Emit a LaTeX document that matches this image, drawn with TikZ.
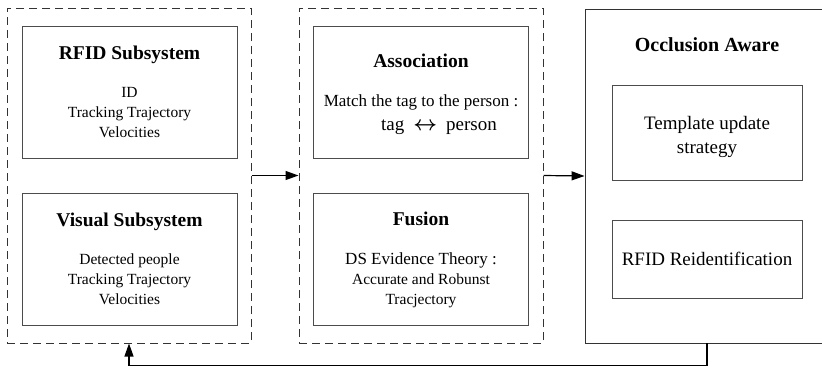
\documentclass[tikz,border=0pt]{standalone}
\usepackage{fontspec}
\setmainfont{Liberation Serif}
\usetikzlibrary{arrows.meta}
\usetikzlibrary{positioning}
\tikzset{
    group/.style={
           rectangle,
           draw=black!80, line width=1pt,
           dash pattern=on 8pt off 5pt,
           minimum width=244pt,
           minimum height=335pt,
           },
    block/.style={
           rectangle,
           draw=black!70, line width=1pt,
           minimum width=215pt,
           minimum height=132pt,
           inner sep=2pt,
           align=center,
           font=\fontsize{15.5}{20}\selectfont,
           },
    flow/.style={
           draw=black, line width=1.2pt,
           -{Triangle[length=13pt,width=9pt]},
           },
}
\newcommand{\blocktitle}[1]{{\fontsize{19.5}{22}\selectfont\bfseries #1}}

\begin{document}
\begin{tikzpicture}[x=1pt,y=-1pt]
 \useasboundingbox (0,0) rectangle (822,367);
 \clip (0,0) rectangle (822,367);

 % left group: the two subsystems
 \node[group] (Sensor Group) at (129,175.5) {};
 \node[block] (RFID) at (129.5,92)
  {\blocktitle{RFID Subsystem}\\[18pt] ID\\ Tracking Trajectory\\ Velocities};
 \node[block] (Visual) at (129.5,259)
  {\blocktitle{Visual Subsystem}\\[18pt] Detected people\\ Tracking Trajectory\\ Velocities};

 % middle group: association and fusion
 \node[group] (Fusion Group) at (421,175.5) {};
 \node[block] (Association) at (421,92)
  {\rule{0pt}{18pt}\blocktitle{Association}\\[19pt]
   {\fontsize{17}{20}\selectfont Match the tag to the person :}\\[4pt]
   {\fontsize{19}{22}\selectfont\hspace*{36pt}tag\hspace{9pt}{\fontsize{22}{22}\selectfont\boldmath$\leftrightarrow$}\hspace{9pt}person}};
 \node[block] (Fusion) at (421,259)
  {\rule{0pt}{16pt}\blocktitle{Fusion}\\[19pt]
   {\fontsize{17}{20}\selectfont DS Evidence Theory :}\\ Accurate and Robunst\\ Tracjectory};

 % right block: occlusion handling
 \node[rectangle, draw=black!80, line width=0.9pt,
  minimum width=244pt, minimum height=334pt] (Occlusion) at (707,176) {};
 \node[font=\fontsize{20}{22}\selectfont\bfseries] (Occlusion Title) at (707,45) {Occlusion Aware};
 \node[block, minimum width=190pt, minimum height=95pt,
  font=\fontsize{19}{24}\selectfont] (Template) at (707,132.5)
  {\rule{0pt}{22pt}Template update\\ strategy};
 \node[block, minimum width=190pt, minimum height=78pt,
  font=\fontsize{19}{23.5}\selectfont] (Reid) at (707,259)
  {RFID Reidentification};

 % connections
 \draw[flow] (Sensor Group.east) -- (Fusion Group.west);
 \draw[flow] (Fusion Group.east) -- (Occlusion.west);
 \draw[flow] (Occlusion.south) -- ++(0,22) -| (Sensor Group.south);

\end{tikzpicture}
\end{document}
